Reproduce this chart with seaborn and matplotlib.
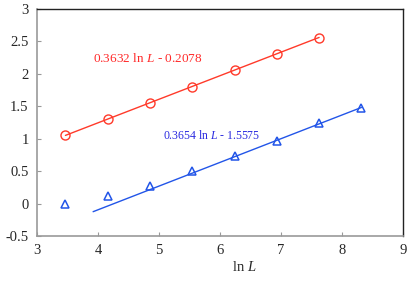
import matplotlib
matplotlib.use("Agg")
import matplotlib.pyplot as plt
import seaborn as sns
import numpy as np
import pandas as pd

# data
lnL_red = [3.466, 4.159, 4.852, 5.545, 6.238, 6.931, 7.625]
y_red = [1.05, 1.30, 1.555, 1.80, 2.06, 2.31, 2.555]
lnL_blue = [3.466, 4.159, 4.852, 5.545, 6.238, 6.931, 7.625, 8.318]
y_blue = [-0.01, 0.115, 0.275, 0.50, 0.73, 0.97, 1.235, 1.48]
fit_red = (0.3632, -0.2078)
fit_blue = (0.3654, -1.5575)
fit_x_red = [3.466, 7.625]
fit_x_blue = [3.92, 8.318]
label_red = "0.3632 ln $L$ - 0.2078"
label_blue = "0.3654 ln $L$ - 1.5575"
xticks = [3, 4, 5, 6, 7, 8, 9]
yticks = [-0.5, 0, 0.5, 1, 1.5, 2, 2.5, 3]

sns.set_theme(style="white")
plt.rcParams['font.family'] = ['Liberation Serif', 'DejaVu Serif']
plt.rcParams['mathtext.fontset'] = 'custom'
plt.rcParams['mathtext.rm'] = 'Liberation Serif'
plt.rcParams['mathtext.it'] = 'Liberation Serif:italic'

red = '#ff3a2a'
blue = '#2255e8'

fig = plt.figure(figsize=(4.15, 2.81), dpi=100)
ax = fig.add_axes([37/415, 45/281, 366/415, 227/281])

df_r = pd.DataFrame({'x': fit_x_red, 'y': [fit_red[0]*v + fit_red[1] for v in fit_x_red]})
df_b = pd.DataFrame({'x': fit_x_blue, 'y': [fit_blue[0]*v + fit_blue[1] for v in fit_x_blue]})
sns.lineplot(data=df_r, x='x', y='y', ax=ax, color=red, lw=1.0)
sns.lineplot(data=df_b, x='x', y='y', ax=ax, color=blue, lw=1.0)

ax.plot(lnL_red, y_red, 'o', ls='none', mfc='none', mec=red, ms=6.5, mew=1.0)
ax.plot(lnL_blue, y_blue, '^', ls='none', mfc='none', mec=blue, ms=6, mew=1.1)

ax.text(3.92, 2.24, label_red, color='#ff2a2a', fontsize=9.5, va='center', ha='left')
ax.text(5.06, 1.05, label_blue, color='#2a2ae0', fontsize=8.5, va='center', ha='left')

ax.set_xlim(3, 9)
ax.set_ylim(-0.5, 3)
ax.set_xticks(xticks)
ax.set_yticks(yticks)
ax.set_xticklabels([str(t) for t in xticks])
ax.set_yticklabels(['-0.5', '0', '0.5', '1', '1.5', '2', '2.5', '3'])
ax.tick_params(direction='in', length=3, width=0.8, color='#999999', labelsize=10.5,
               bottom=True, left=True, pad=6)
ax.set_xlabel("ln $L$", fontsize=10.5, labelpad=2)
ax.xaxis.set_label_coords(0.566, -0.105)
ax.set_ylabel("")
for s in ['left', 'bottom']:
    ax.spines[s].set_color('#999999')
    ax.spines[s].set_linewidth(1.2)
for s in ['top', 'right']:
    ax.spines[s].set_color('#222222')
    ax.spines[s].set_linewidth(1.0)

fig.savefig('out.png', dpi=100)
